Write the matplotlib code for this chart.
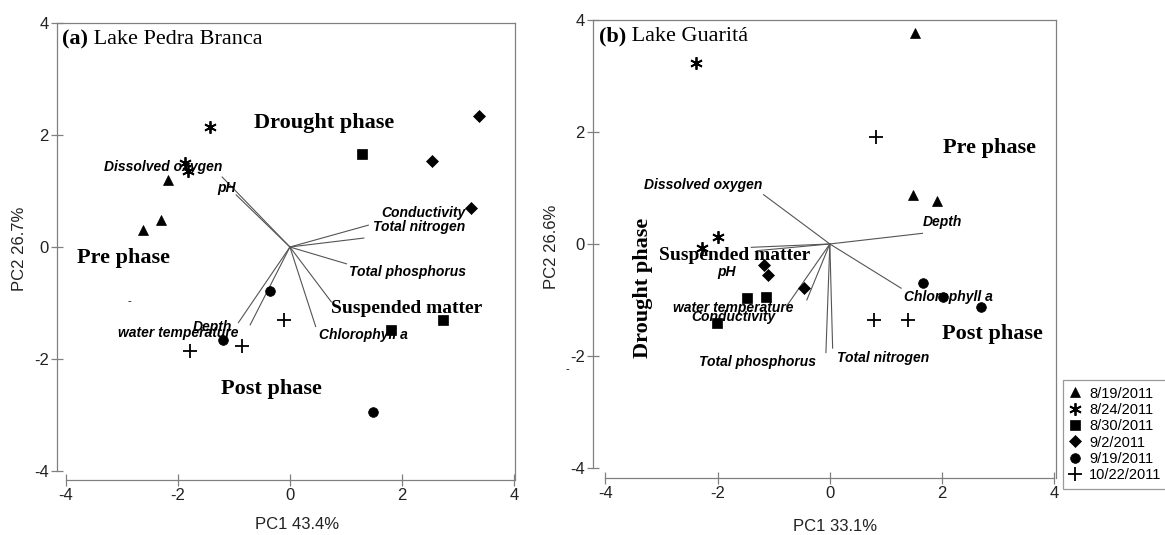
import matplotlib.pyplot as plt
from matplotlib.lines import Line2D

# Sampling dates and the marker used for each one
dates = ['8/19/2011', '8/24/2011', '8/30/2011', '9/2/2011', '9/19/2011', '10/22/2011']
date_markers = ['^', (6, 2, 0), 's', 'D', 'o', '+']
marker_sizes = [7.5, 9, 7, 6.5, 7, 10]

# Lake Pedra Branca: sample scores (index into dates)
pb_date = [0, 0, 0, 1, 1, 1, 2, 2, 2, 3, 3, 3, 4, 4, 4, 5, 5, 5]
pb_pc1 = [-2.17, -2.30, -2.63, -1.43, -1.88, -1.82, 1.28, 2.73, 1.80,
          3.37, 2.54, 3.23, -0.36, -1.19, 1.49, -0.10, -1.78, -0.85]
pb_pc2 = [1.20, 0.49, 0.30, 2.15, 1.50, 1.36, 1.66, -1.30, -1.48,
          2.34, 1.53, 0.69, -0.78, -1.66, -2.94, -1.30, -1.85, -1.77]

# Lake Guaritá: sample scores
gu_date = [0, 0, 0, 1, 1, 1, 2, 2, 2, 3, 3, 3, 4, 4, 4, 5, 5, 5]
gu_pc1 = [1.52, 1.49, 1.91, -2.38, -1.99, -2.27, -1.48, -1.14, -2.01,
          -1.17, -1.11, -0.46, 1.66, 2.02, 2.70, 0.82, 0.79, 1.40]
gu_pc2 = [3.77, 0.87, 0.77, 3.23, 0.13, -0.08, -0.97, -0.95, -1.42,
          -0.37, -0.55, -0.79, -0.70, -0.95, -1.12, 1.91, -1.36, -1.35]

# Environmental variables (vector loadings)
variables = ['Dissolved oxygen', 'pH', 'Conductivity', 'Total nitrogen',
             'Total phosphorus', 'Suspended matter', 'Chlorophyll a',
             'water temperature', 'Depth']
pb_load1 = [-1.21, -0.96, 1.40, 1.32, 1.01, 0.74, 0.46, -0.92, -0.71]
pb_load2 = [1.25, 0.93, 0.39, 0.16, -0.30, -0.98, -1.42, -1.35, -1.39]
gu_load1 = [-1.18, -1.30, -0.41, 0.05, -0.07, -1.40, 1.27, -0.77, 1.65]
gu_load2 = [0.88, -0.12, -1.00, -1.86, -1.94, -0.06, -0.79, -1.11, 0.19]

# where each variable name sits (x, y, ha)
pb_label_pos = {
    'Dissolved oxygen': (-1.21, 1.43, 'right'),
    'pH': (-0.96, 1.05, 'right'),
    'Conductivity': (3.14, 0.61, 'right'),
    'Total nitrogen': (3.14, 0.36, 'right'),
    'Total phosphorus': (1.05, -0.45, 'left'),
    'Suspended matter': (0.73, -1.09, 'left'),
    'Chlorophyll a': (0.52, -1.57, 'left'),
    'water temperature': (-3.07, -1.53, 'left'),
    'Depth': (-1.73, -1.43, 'left'),
}
gu_label_pos = {
    'Dissolved oxygen': (-1.21, 1.05, 'right'),
    'pH': (-2.0, -0.50, 'left'),
    'Conductivity': (-2.46, -1.30, 'left'),
    'Total nitrogen': (0.125, -2.04, 'left'),
    'Total phosphorus': (-2.34, -2.11, 'left'),
    'Suspended matter': (-3.04, -0.21, 'left'),
    'Chlorophyll a': (1.32, -0.95, 'left'),
    'water temperature': (-2.80, -1.14, 'left'),
    'Depth': (1.66, 0.39, 'left'),
}

# phase annotations: (text, x, y, rotation)
pb_phases = [('Drought phase', -0.64, 2.21, 0), ('Pre phase', -3.80, -0.20, 0),
             ('Post phase', -1.23, -2.54, 0)]
gu_phases = [('Pre phase', 2.02, 1.71, 0), ('Post phase', 2.0, -1.61, 0),
             ('Drought phase', -3.33, -0.79, 90)]

SERIF = 'Liberation Serif'
SANS = 'Liberation Sans'
plt.rcParams['font.family'] = SANS
plt.rcParams['axes.unicode_minus'] = False

fig = plt.figure(figsize=(11.65, 5.35), dpi=100)
ax_a = fig.add_axes([57 / 1165, 55 / 535, 458 / 1165, 457 / 535])
ax_b = fig.add_axes([593 / 1165, 57 / 535, 463 / 1165, 458 / 535])


def style_axes(ax, xlim, ylim):
    ax.set_xlim(*xlim)
    ax.set_ylim(*ylim)
    ax.set_xticks([-4, -2, 0, 2, 4])
    ax.set_yticks([-4, -2, 0, 2, 4])
    for s in ax.spines.values():
        s.set_color('#808080')
        s.set_linewidth(0.9)
    ax.spines['left'].set_bounds(-4, 4)
    ax.spines['bottom'].set_bounds(-4, 4)
    ax.tick_params(direction='inout', length=8, width=0.9, color='#808080',
                   labelsize=12, labelcolor='#222222', pad=2)


def biplot(ax, pc1, pc2, date_idx, load1, load2, label_pos, phases, title):
    for d, (m, ms) in enumerate(zip(date_markers, marker_sizes)):
        xs = [x for x, k in zip(pc1, date_idx) if k == d]
        ys = [y for y, k in zip(pc2, date_idx) if k == d]
        ax.plot(xs, ys, linestyle='none', marker=m, markersize=ms,
                color='black', markeredgewidth=1.3 if d in (1, 5) else 0.5,
                zorder=3)
    for name, lx, ly in zip(variables, load1, load2):
        ax.plot([0, lx], [0, ly], color='#555555', linewidth=0.8, zorder=2)
        tx, ty, ha = label_pos[name]
        if name == 'Suspended matter':
            ax.text(tx, ty, name, ha=ha, va='center', fontsize=14,
                    fontweight='bold', family=SERIF, zorder=4)
        else:
            ax.text(tx, ty, name, ha=ha, va='center', fontsize=10,
                    fontweight='bold', style='italic', zorder=4)
    for txt, px, py, rot in phases:
        ax.text(px, py, txt, ha='center' if rot else 'left', va='center',
                rotation=rot, fontsize=16, fontweight='bold', family=SERIF)
    tag, lake = title
    t = ax.text(0.012, 0.965, tag, transform=ax.transAxes, ha='left', va='center',
                fontsize=16, fontweight='bold', family=SERIF)
    ax.annotate(lake, xy=(1, 0), xycoords=t, ha='left', va='bottom',
                fontsize=16, family=SERIF)


style_axes(ax_a, (-4.16, 4.02), (-4.16, 4.0))
style_axes(ax_b, (-4.22, 4.03), (-4.18, 4.0))

biplot(ax_a, pb_pc1, pb_pc2, pb_date, pb_load1, pb_load2, pb_label_pos,
       pb_phases, ('(a)', ' Lake Pedra Branca'))
biplot(ax_b, gu_pc1, gu_pc2, gu_date, gu_load1, gu_load2, gu_label_pos,
       gu_phases, ('(b)', ' Lake Guaritá'))

# stray dash marks
ax_a.text(-2.86, -0.96, '-', ha='center', va='center', fontsize=8)
ax_b.text(-4.68, -2.23, '-', ha='center', va='center', fontsize=8, clip_on=False)

ax_a.set_xlabel('PC1 43.4%', fontsize=12, color='#222222')
ax_a.set_ylabel('PC2 26.7%', fontsize=12, color='#222222')
ax_a.xaxis.set_label_coords(0.524, -0.082)
ax_a.yaxis.set_label_coords(-0.066, 0.505)
ax_b.set_xlabel('PC1 33.1%', fontsize=12, color='#222222')
ax_b.set_ylabel('PC2 26.6%', fontsize=12, color='#222222')
ax_b.xaxis.set_label_coords(0.523, -0.090)
ax_b.yaxis.set_label_coords(-0.073, 0.505)

handles = [Line2D([], [], linestyle='none', marker=m, markersize=ms,
                  color='black', markeredgewidth=1.3 if i in (1, 5) else 0.5)
           for i, (m, ms) in enumerate(zip(date_markers, marker_sizes))]
leg = fig.legend(handles, dates, loc='upper left',
                 bbox_to_anchor=(1063 / 1165, 1 - 380 / 535), fontsize=10.5,
                 frameon=True, fancybox=False, borderpad=0.45, handlelength=0.8,
                 handletextpad=0.55, labelspacing=0.16, borderaxespad=0)
leg.get_frame().set_edgecolor('#808080')
leg.get_frame().set_linewidth(0.9)

fig.savefig('out.png', dpi=100, facecolor='white')
